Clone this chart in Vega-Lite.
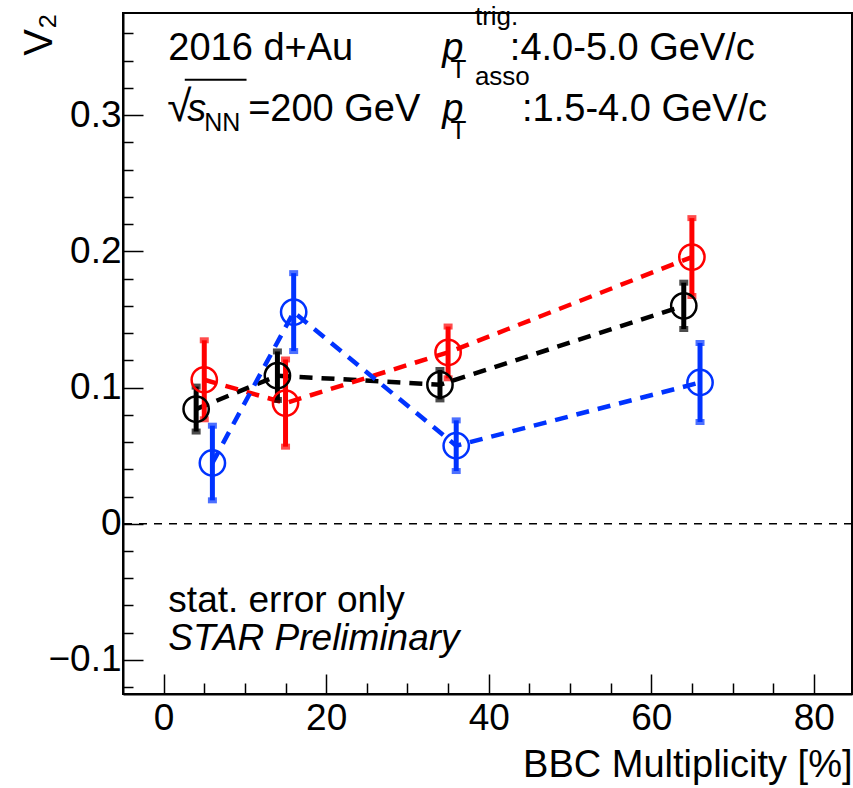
{
  "$schema": "https://vega.github.io/schema/vega-lite/v6.json",
  "autosize": {"type": "none"},
  "padding": {"left": 123, "top": 13, "right": 1, "bottom": 94},
  "width": 729,
  "height": 681,
  "background": "white",
  "config": {
    "font": "Liberation Sans",
    "view": {"stroke": "black", "strokeWidth": 2},
    "axis": {"grid": false, "labelOverlap": false}
  },
  "data": {"values": [{"label": "annotation"}]},
  "datasets": {
    "v2": [
      {"series": "black", "mult": 4, "v2": 0.0842, "err": 0.0165},
      {"series": "black", "mult": 14, "v2": 0.1087, "err": 0.0178},
      {"series": "black", "mult": 34, "v2": 0.1021, "err": 0.0108},
      {"series": "black", "mult": 64, "v2": 0.160, "err": 0.017},
      {"series": "red", "mult": 5, "v2": 0.1057, "err": 0.029},
      {"series": "red", "mult": 15, "v2": 0.0886, "err": 0.032},
      {"series": "red", "mult": 35, "v2": 0.1258, "err": 0.019},
      {"series": "red", "mult": 65, "v2": 0.1958, "err": 0.0286},
      {"series": "blue", "mult": 6, "v2": 0.0446, "err": 0.0274},
      {"series": "blue", "mult": 16, "v2": 0.1554, "err": 0.0286},
      {"series": "blue", "mult": 36, "v2": 0.0573, "err": 0.0186},
      {"series": "blue", "mult": 66, "v2": 0.1037, "err": 0.029}
    ]
  },
  "layer": [
    {
      "mark": {"type": "rule", "color": "black", "strokeWidth": 1.5, "strokeDash": [8, 7]},
      "encoding": {
        "y": {
          "datum": 0, "type": "quantitative",
          "scale": {"domain": [-0.125, 0.375], "nice": false, "zero": false},
          "axis": {
            "values": [-0.12, -0.1, -0.08, -0.06, -0.04, -0.02, 0, 0.02, 0.04, 0.06, 0.08, 0.1, 0.12, 0.14, 0.16, 0.18, 0.2, 0.22, 0.24, 0.26, 0.28, 0.3, 0.32, 0.34, 0.36],
            "tickCount": 100,
            "tickSize": {"condition": {"test": "slice(format(abs(datum.value), '.2f'), -1) === '0'", "value": -20}, "value": -10},
            "labelFontSize": {"condition": {"test": "slice(format(abs(datum.value), '.2f'), -1) === '0'", "value": 37}, "value": 1},
            "labelExpr": "slice(format(abs(datum.value), '.2f'), -1) === '0' ? (datum.value < -0.0001 ? '\u2212' + format(-datum.value, '.1f') : (abs(datum.value) < 0.0001 ? '0' : format(datum.value, '.1f'))) : ''",
            "tickColor": "black", "tickWidth": 1.5,
            "domainColor": "black", "domainWidth": 2,
            "labelColor": "black", "labelPadding": 22,
            "labelFlush": false, "labelOverlap": false,
            "title": "V\u2082", "titleAnchor": "end", "titleFontSize": 40,
            "titleFontWeight": "normal", "titleColor": "black", "titlePadding": -12
          }
        }
      }
    },
    {
      "data": {"name": "v2"},
      "mark": {"type": "line", "strokeWidth": 4.5, "strokeDash": [13, 9]},
      "encoding": {
        "x": {"field": "mult", "type": "quantitative", "title": "BBC Multiplicity [%]"},
        "y": {"field": "v2", "type": "quantitative", "title": "V\u2082"},
        "color": {"field": "series", "type": "nominal"},
        "order": {"field": "mult"}
      }
    },
    {
      "data": {"name": "v2"},
      "mark": {"type": "errorbar", "thickness": 5, "ticks": {"size": 9, "thickness": 6}},
      "encoding": {
        "x": {"field": "mult", "type": "quantitative", "title": "BBC Multiplicity [%]"},
        "y": {"field": "v2", "type": "quantitative", "title": "V\u2082"},
        "yError": {"field": "err"},
        "color": {"field": "series", "type": "nominal"}
      }
    },
    {
      "data": {"name": "v2"},
      "mark": {"type": "point", "shape": "circle", "filled": false, "size": 640, "strokeWidth": 2.5, "opacity": 1},
      "encoding": {
        "x": {
          "field": "mult", "type": "quantitative",
          "scale": {"domain": [-5, 84.7], "nice": false, "zero": false},
          "axis": {
            "values": [0, 5, 10, 15, 20, 25, 30, 35, 40, 45, 50, 55, 60, 65, 70, 75, 80],
            "tickCount": 100,
            "tickSize": {"condition": {"test": "datum.value % 20 === 0", "value": -20}, "value": -11},
            "labelFontSize": {"condition": {"test": "datum.value % 20 === 0", "value": 37}, "value": 1},
            "labelExpr": "datum.value % 20 === 0 ? datum.label : ''",
            "tickColor": "black", "tickWidth": 1.5,
            "domainColor": "black", "domainWidth": 2,
            "labelColor": "black", "labelPadding": 26,
            "labelFlush": false, "labelOverlap": false,
            "title": "BBC Multiplicity [%]", "titleAnchor": "end", "titleFontSize": 38,
            "titleFontWeight": "normal", "titleColor": "black", "titlePadding": 10
          }
        },
        "y": {"field": "v2", "type": "quantitative", "title": "V\u2082"},
        "color": {
          "field": "series", "type": "nominal",
          "scale": {"domain": ["black", "red", "blue"], "range": ["#000000", "#ff0000", "#0033ff"]},
          "legend": null
        }
      }
    },
    {
      "mark": {"type": "text", "text": "2016 d+Au", "fontSize": 38, "align": "left", "baseline": "alphabetic", "color": "black"},
      "encoding": {"x": {"datum": 0.58}, "y": {"datum": 0.3407}}
    },
    {
      "mark": {"type": "text", "text": "\u221a", "fontSize": 44, "align": "left", "baseline": "alphabetic", "color": "black"},
      "encoding": {"x": {"datum": 0.45}, "y": {"datum": 0.2959}}
    },
    {
      "mark": {"type": "rule", "color": "black", "strokeWidth": 2},
      "encoding": {"x": {"datum": 2.6}, "x2": {"datum": 10.2}, "y": {"datum": 0.326}}
    },
    {
      "mark": {"type": "text", "text": "s", "fontSize": 38, "fontStyle": "italic", "align": "left", "baseline": "alphabetic", "color": "black"},
      "encoding": {"x": {"datum": 2.9}, "y": {"datum": 0.2959}}
    },
    {
      "mark": {"type": "text", "text": "NN", "fontSize": 25, "align": "left", "baseline": "alphabetic", "color": "black"},
      "encoding": {"x": {"datum": 5.0}, "y": {"datum": 0.2885}}
    },
    {
      "mark": {"type": "text", "text": "=200 GeV", "fontSize": 38, "align": "left", "baseline": "alphabetic", "color": "black"},
      "encoding": {"x": {"datum": 10.4}, "y": {"datum": 0.2959}}
    },
    {
      "mark": {"type": "text", "text": "p", "fontSize": 38, "fontStyle": "italic", "align": "left", "baseline": "alphabetic", "color": "black"},
      "encoding": {"x": {"datum": 34.28}, "y": {"datum": 0.3407}}
    },
    {
      "mark": {"type": "text", "text": "T", "fontSize": 26, "align": "left", "baseline": "alphabetic", "color": "black"},
      "encoding": {"x": {"datum": 35.3}, "y": {"datum": 0.3275}}
    },
    {
      "mark": {"type": "text", "text": "trig.", "fontSize": 26, "align": "left", "baseline": "alphabetic", "color": "black"},
      "encoding": {"x": {"datum": 38.3}, "y": {"datum": 0.3665}}
    },
    {
      "mark": {"type": "text", "text": ":4.0-5.0 GeV/c", "fontSize": 38, "align": "left", "baseline": "alphabetic", "color": "black"},
      "encoding": {"x": {"datum": 42.6}, "y": {"datum": 0.3407}}
    },
    {
      "mark": {"type": "text", "text": "p", "fontSize": 38, "fontStyle": "italic", "align": "left", "baseline": "alphabetic", "color": "black"},
      "encoding": {"x": {"datum": 34.28}, "y": {"datum": 0.2959}}
    },
    {
      "mark": {"type": "text", "text": "T", "fontSize": 26, "align": "left", "baseline": "alphabetic", "color": "black"},
      "encoding": {"x": {"datum": 35.3}, "y": {"datum": 0.2827}}
    },
    {
      "mark": {"type": "text", "text": "asso", "fontSize": 26, "align": "left", "baseline": "alphabetic", "color": "black"},
      "encoding": {"x": {"datum": 38.3}, "y": {"datum": 0.322}}
    },
    {
      "mark": {"type": "text", "text": ":1.5-4.0 GeV/c", "fontSize": 38, "align": "left", "baseline": "alphabetic", "color": "black"},
      "encoding": {"x": {"datum": 44.1}, "y": {"datum": 0.2959}}
    },
    {
      "mark": {"type": "text", "text": "stat. error only", "fontSize": 37, "align": "left", "baseline": "alphabetic", "color": "black"},
      "encoding": {"x": {"datum": 0.58}, "y": {"datum": -0.0646}}
    },
    {
      "mark": {"type": "text", "text": "STAR Preliminary", "fontSize": 37, "fontStyle": "italic", "align": "left", "baseline": "alphabetic", "color": "black"},
      "encoding": {"x": {"datum": 0.58}, "y": {"datum": -0.0925}}
    }
  ]
}
